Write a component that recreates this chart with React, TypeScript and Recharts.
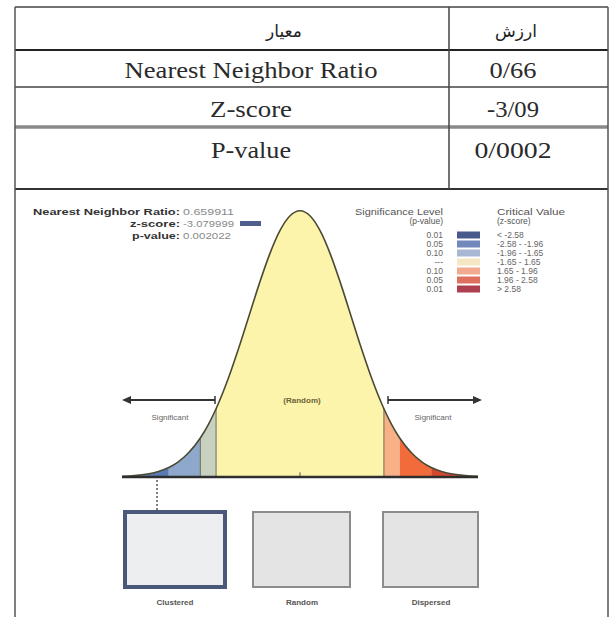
import React from "react";
import { ComposedChart, Area, Line, XAxis, YAxis, ReferenceLine } from "recharts";

// z-score positions and curve heights
const zValues = [
  -3.5, -3.25, -3, -2.8, -2.58, -2.4, -2.2, -1.96, -1.8, -1.65, -1.4, -1.2, -1, -0.8, -0.6, -0.4, -0.2, 0,
  0.2, 0.4, 0.6, 0.8, 1, 1.2, 1.4, 1.65, 1.8, 1.96, 2.2, 2.4, 2.58, 2.8, 3, 3.25, 3.5,
];
const heights = [
  0.0009, 0.002, 0.0044, 0.0079, 0.0143, 0.0224, 0.0355, 0.0584, 0.079, 0.1023, 0.1497, 0.1942, 0.242, 0.2897,
  0.3332, 0.3683, 0.391, 0.3989, 0.391, 0.3683, 0.3332, 0.2897, 0.242, 0.1942, 0.1497, 0.1023, 0.079, 0.0584,
  0.0355, 0.0224, 0.0143, 0.0079, 0.0044, 0.002, 0.0009,
];

// bands under the curve
const bandKeys = ["b1", "b2", "b3", "b4", "b5", "b6", "b7"];
const bandEdges = [
  [-3.5, -2.58],
  [-2.58, -1.96],
  [-1.96, -1.65],
  [-1.65, 1.65],
  [1.65, 1.96],
  [1.96, 2.58],
  [2.58, 3.5],
];
const bandColors = ["#5a7bb1", "#8ea8cc", "#c8d1c0", "#fcf4ab", "#f8b187", "#f26b3b", "#d2482f"];

// table
const headerLabel = "معیار";
const headerValue = "ارزش";
const rowLabels = ["Nearest Neighbor Ratio", "Z-score", "P-value"];
const rowValues = ["0/66", "-3/09", "0/0002"];

// report texts
const statLabels = ["Nearest Neighbor Ratio:", "z-score:", "p-value:"];
const statValues = ["0.659911", "-3.079999", "0.002022"];
const legendP = ["0.01", "0.05", "0.10", "---", "0.10", "0.05", "0.01"];
const legendZ = ["< -2.58", "-2.58 - -1.96", "-1.96 - -1.65", "-1.65 - 1.65", "1.65 - 1.96", "1.96 - 2.58", "> 2.58"];
const legendColors = ["#48598c", "#7088ba", "#aab7d3", "#f5e6c4", "#f1a98f", "#df6f5e", "#ae3f4f"];
const patternLabels = ["Clustered", "Random", "Dispersed"];

const serif = "'Liberation Serif', 'Times New Roman', serif";
const sans = "'Liberation Sans', Arial, sans-serif";

export default function App() {
  const data = zValues.map((z, i) => {
    const row: Record<string, number | null> = { z, d: heights[i] };
    bandEdges.forEach(([lo, hi], b) => {
      row[bandKeys[b]] = z >= lo && z <= hi ? heights[i] : null;
    });
    return row;
  });
  const hAt = (z: number) => heights[zValues.indexOf(z)];

  const rowBase = [78, 117, 158];
  const labelW = [253, 82, 80];
  const valueW = [47, 52, 77];
  const statRows = [215, 227, 239];
  const statLabelW = [147, 50, 48];
  const statValueW = [51, 51, 48];
  const legendRows = [235, 244, 253, 262, 271, 280, 289];
  const boxX = [125, 253, 383];
  const boxW = [100, 97, 95];
  const labelX = [175, 302, 431];

  return (
    <div style={{ position: "absolute", left: 0, top: 0, width: 611, height: 617, background: "#fff", overflow: "hidden" }}>
      <div style={{ position: "absolute", left: 15, top: 190 }}>
        <ComposedChart width={593} height={427} data={data} margin={{ top: 20, right: 130, bottom: 140, left: 107 }}>
          <XAxis dataKey="z" type="number" domain={[-3.5, 3.5]} hide />
          <YAxis type="number" domain={[0, 0.4]} hide />
          {bandKeys.map((k, i) => (
            <Area
              key={k}
              dataKey={k}
              type="monotone"
              fill={bandColors[i]}
              fillOpacity={1}
              stroke="none"
              dot={false}
              activeDot={false}
              isAnimationActive={false}
            />
          ))}
          {[-1.96, -1.65, 1.65].map((z) => (
            <ReferenceLine
              key={z}
              segment={[{ x: z, y: 0 }, { x: z, y: hAt(z) }]}
              stroke="#6b6b55"
              strokeWidth={1}
            />
          ))}
          <ReferenceLine segment={[{ x: 0, y: 0 }, { x: 0, y: 0.007 }]} stroke="#555" strokeWidth={1} />
          <Line dataKey="d" type="monotone" stroke="#4b4a36" strokeWidth={1.6} dot={false} activeDot={false} isAnimationActive={false} />
          <ReferenceLine y={0} stroke="#2e2e2e" strokeWidth={2.5} />
        </ComposedChart>
      </div>

      <svg width={611} height={617} style={{ position: "absolute", left: 0, top: 0, pointerEvents: "none" }}>
        {/* table frame */}
        <line x1={15} y1={7} x2={608} y2={7} stroke="#444" strokeWidth={1.5} />
        <line x1={15} y1={50} x2={608} y2={50} stroke="#222" strokeWidth={2.2} />
        <line x1={15} y1={87} x2={608} y2={87} stroke="#444" strokeWidth={1.5} />
        <line x1={15} y1={127} x2={608} y2={127} stroke="#8a8a8a" strokeWidth={3.5} />
        <line x1={15} y1={189} x2={608} y2={189} stroke="#333" strokeWidth={2} />
        <line x1={15} y1={7} x2={15} y2={617} stroke="#555" strokeWidth={1.5} />
        <line x1={608} y1={7} x2={608} y2={617} stroke="#555" strokeWidth={1.5} />
        <line x1={449} y1={7} x2={449} y2={189} stroke="#444" strokeWidth={1.5} />

        <text x={284} y={37} textAnchor="middle" fontFamily="'DejaVu Sans', sans-serif" fontSize={17} fill="#222">
          {headerLabel}
        </text>
        <text x={516} y={37} textAnchor="middle" fontFamily="'DejaVu Sans', sans-serif" fontSize={17} fill="#222">
          {headerValue}
        </text>
        {rowLabels.map((t, i) => (
          <text key={t} x={251} y={rowBase[i]} textAnchor="middle" fontFamily={serif} fontSize={24} fill="#2a2a2a"
            textLength={labelW[i]} lengthAdjust="spacingAndGlyphs">
            {t}
          </text>
        ))}
        {rowValues.map((t, i) => (
          <text key={t} x={513} y={rowBase[i]} textAnchor="middle" fontFamily={serif} fontSize={23} fill="#2a2a2a"
            textLength={valueW[i]} lengthAdjust="spacingAndGlyphs">
            {t}
          </text>
        ))}

        {/* report statistics */}
        {statLabels.map((t, i) => (
          <g key={t}>
            <text x={180} y={statRows[i]} textAnchor="end" fontFamily={sans} fontSize={8.5} fontWeight="bold" fill="#333"
              textLength={statLabelW[i]} lengthAdjust="spacingAndGlyphs">
              {t}
            </text>
            <text x={183} y={statRows[i]} fontFamily={sans} fontSize={8.5} fill="#888"
              textLength={statValueW[i]} lengthAdjust="spacingAndGlyphs">
              {statValues[i]}
            </text>
          </g>
        ))}
        <rect x={240} y={statRows[1] - 6} width={21} height={5} fill="#505e8e" />

        {/* legend */}
        <text x={443} y={215} textAnchor="end" fontFamily={sans} fontSize={8.5} fill="#555" textLength={88} lengthAdjust="spacingAndGlyphs">Significance Level</text>
        <text x={443} y={224} textAnchor="end" fontFamily={sans} fontSize={8.5} fill="#555">(p-value)</text>
        <text x={497} y={215} fontFamily={sans} fontSize={8.5} fill="#555" textLength={68} lengthAdjust="spacingAndGlyphs">Critical Value</text>
        <text x={497} y={224} fontFamily={sans} fontSize={8.5} fill="#555">(z-score)</text>
        {legendP.map((p, i) => (
          <g key={i}>
            <text x={443} y={legendRows[i] + 3} textAnchor="end" fontFamily={sans} fontSize={8.5} fill="#666">{p}</text>
            <rect x={457} y={legendRows[i] - 3.5} width={23} height={7} fill={legendColors[i]} />
            <text x={497} y={legendRows[i] + 3} fontFamily={sans} fontSize={8.5} fill="#666">{legendZ[i]}</text>
          </g>
        ))}

        {/* arrows */}
        <line x1={128} y1={400} x2={215} y2={400} stroke="#333" strokeWidth={2} />
        <polygon points="122,400 131,396 131,404" fill="#333" />
        <line x1={215} y1={396} x2={215} y2={404} stroke="#333" strokeWidth={1.5} />
        <line x1={388} y1={400} x2={476} y2={400} stroke="#333" strokeWidth={2} />
        <polygon points="482,400 473,396 473,404" fill="#333" />
        <line x1={388} y1={396} x2={388} y2={404} stroke="#333" strokeWidth={1.5} />
        <text x={170} y={420} textAnchor="middle" fontFamily={sans} fontSize={8} fill="#666">Significant</text>
        <text x={433} y={420} textAnchor="middle" fontFamily={sans} fontSize={8} fill="#666">Significant</text>
        <text x={302} y={403} textAnchor="middle" fontFamily={sans} fontSize={8} fontWeight="bold" fill="#6a6438">(Random)</text>

        {/* marker to the clustered pattern */}
        <line x1={157} y1={480} x2={157} y2={510} stroke="#555" strokeWidth={1.5} strokeDasharray="2 2" />

        {/* pattern thumbnails */}
        {patternLabels.map((t, i) => (
          <g key={t}>
            <rect x={boxX[i]} y={512} width={boxW[i]} height={75}
              fill={i === 0 ? "#eceef0" : "#e4e4e4"}
              stroke={i === 0 ? "#4a587a" : "#8c8c8c"}
              strokeWidth={i === 0 ? 4 : 2} />
            <text x={labelX[i]} y={605} textAnchor="middle" fontFamily={sans} fontSize={8} fontWeight="bold" fill="#555">
              {t}
            </text>
          </g>
        ))}
      </svg>
    </div>
  );
}
